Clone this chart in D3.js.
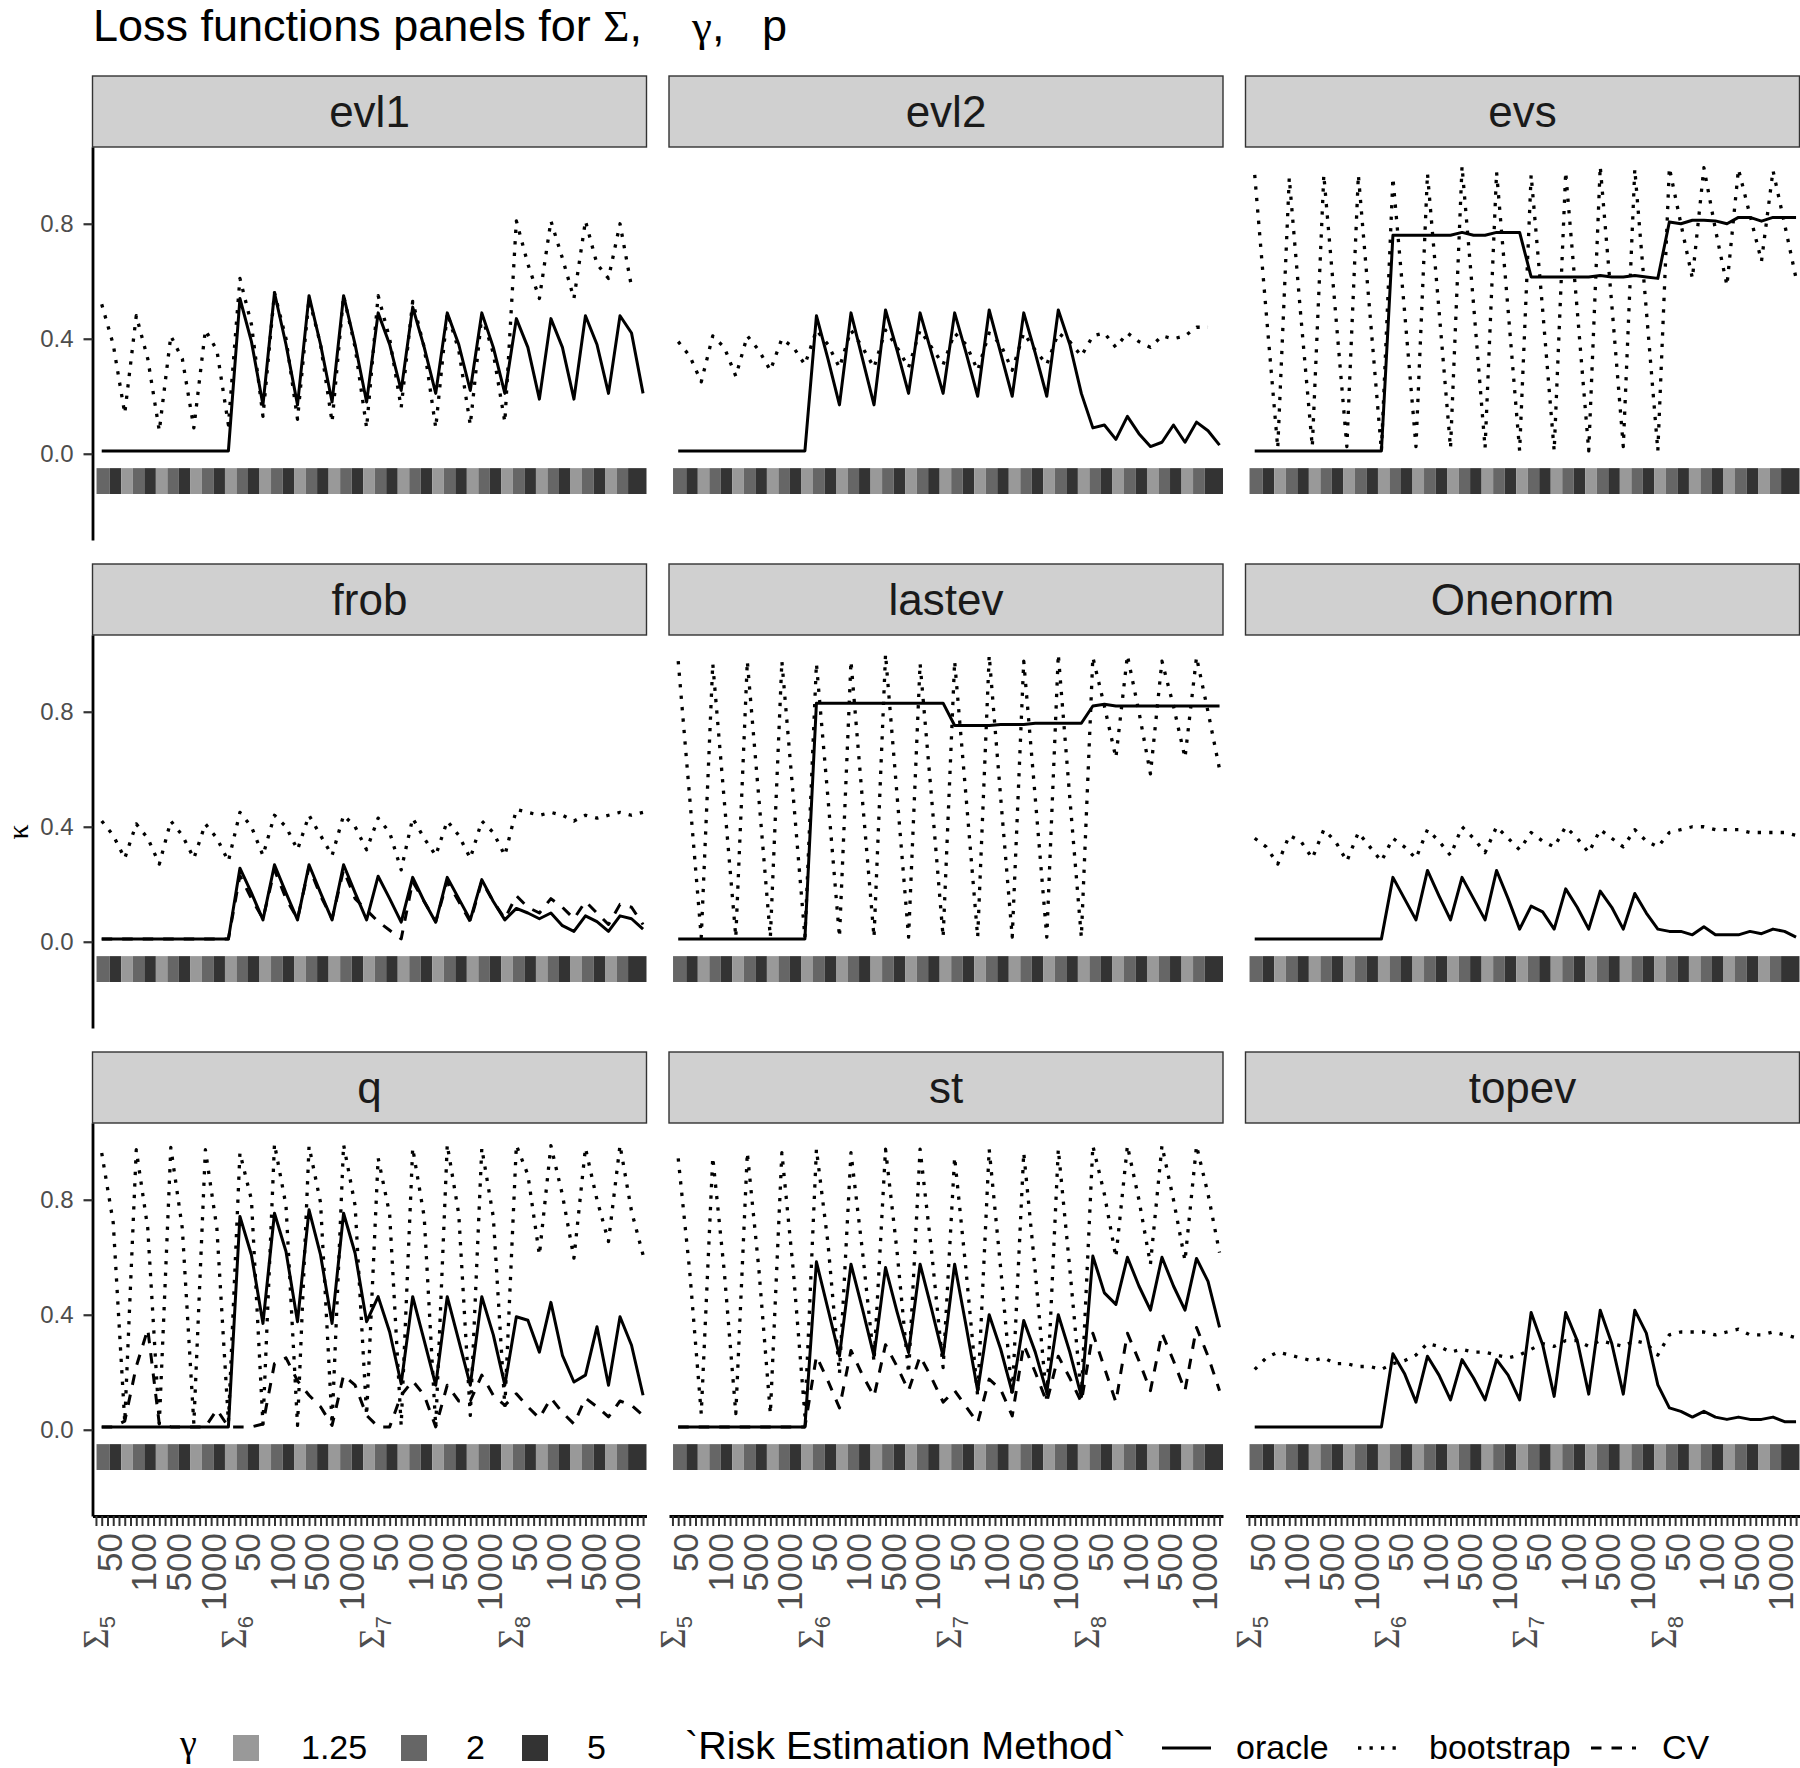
<!DOCTYPE html>
<html><head><meta charset="utf-8">
<script src="https://cdn.jsdelivr.net/npm/d3@7"></script>
<style>
body{margin:0;background:#fff}
svg{display:block}
text{font-family:"Liberation Sans",Arial,Helvetica,sans-serif;white-space:pre}
.greek{font-family:"Liberation Serif","DejaVu Serif",serif}
</style>
</head><body>
<svg id="chart" width="1800" height="1768"></svg>
<script>
// ---------------- data ----------------
const lossNames   = ["evl1","evl2","evs","frob","lastev","Onenorm","q","st","topev"];
const sigmaLevels = ["5","6","7","8"];
const pLevels     = ["50","100","500","1000"];
const gammaLevels = ["1.25","2","5"];
const methodLevels = ["oracle","bootstrap","CV"];
const yTickValues = [0, 0.4, 0.8];

const oracle_evl1 = [0.01,0.01,0.01,0.01,0.01,0.01,0.01,0.01,0.01,0.01,0.01,0.01,
 0.54,0.39,0.17,0.56,0.38,0.17,0.55,0.38,0.18,0.55,0.38,0.18,
 0.49,0.38,0.22,0.51,0.37,0.21,0.49,0.38,0.22,0.49,0.37,0.21,
 0.47,0.37,0.19,0.47,0.37,0.19,0.48,0.38,0.21,0.48,0.42,0.21];
const boot_evl1 = [0.52,0.38,0.14,0.48,0.33,0.08,0.41,0.33,0.09,0.43,0.36,0.10,
 0.61,0.45,0.13,0.56,0.40,0.12,0.54,0.38,0.11,0.55,0.37,0.09,
 0.55,0.40,0.16,0.53,0.37,0.09,0.49,0.36,0.10,0.48,0.35,0.11,
 0.81,0.66,0.54,0.81,0.68,0.54,0.81,0.66,0.61,0.80,0.58,null];

const oracle_evl2 = [0.01,0.01,0.01,0.01,0.01,0.01,0.01,0.01,0.01,0.01,0.01,0.01,
 0.48,0.33,0.17,0.49,0.33,0.17,0.50,0.36,0.21,0.49,0.35,0.21,
 0.49,0.35,0.20,0.50,0.35,0.20,0.49,0.35,0.20,0.50,0.38,0.21,
 0.09,0.10,0.05,0.13,0.07,0.025,0.04,0.10,0.04,0.11,0.08,0.03];
const boot_evl2 = [0.39,0.34,0.25,0.41,0.37,0.27,0.41,0.36,0.29,0.40,0.37,0.31,
 0.43,0.38,0.30,0.43,0.37,0.30,0.43,0.37,0.30,0.43,0.37,0.31,
 0.42,0.38,0.29,0.42,0.38,0.29,0.42,0.36,0.31,0.42,0.39,0.34,
 0.41,0.42,0.37,0.42,0.39,0.37,0.41,0.40,0.41,0.44,0.44,null];

const oracle_evs = [0.01,0.01,0.01,0.01,0.01,0.01,0.01,0.01,0.01,0.01,0.01,0.01,
 0.76,0.76,0.76,0.76,0.76,0.76,0.77,0.76,0.76,0.77,0.77,0.77,
 0.615,0.615,0.615,0.615,0.615,0.615,0.62,0.615,0.615,0.62,0.615,0.61,
 0.806,0.80,0.812,0.812,0.81,0.80,0.822,0.822,0.809,0.822,0.822,0.822];
const boot_evs = [0.97,0.49,0.02,0.96,0.48,0.025,0.97,0.50,0.025,0.97,0.49,0.01,
 0.96,0.50,0.025,0.975,0.50,0.02,1.0,0.52,0.02,0.98,0.50,0.01,
 0.97,0.50,0.01,0.98,0.50,0.01,1.0,0.52,0.025,0.99,0.50,0.01,
 0.995,0.80,0.61,0.995,0.78,0.585,0.99,0.83,0.67,0.985,0.80,0.61];

const oracle_frob = [0.01,0.01,0.01,0.01,0.01,0.01,0.01,0.01,0.01,0.01,0.01,0.01,
 0.256,0.17,0.076,0.268,0.17,0.076,0.268,0.17,0.076,0.268,0.17,0.076,
 0.228,0.15,0.068,0.224,0.14,0.068,0.224,0.15,0.076,0.216,0.14,0.076,
 0.116,0.10,0.08,0.10,0.056,0.036,0.09,0.07,0.036,0.09,0.08,0.044];
const boot_frob = [0.42,0.37,0.29,0.41,0.36,0.27,0.42,0.37,0.29,0.41,0.36,0.28,
 0.45,0.40,0.30,0.44,0.40,0.32,0.44,0.37,0.30,0.44,0.40,0.32,
 0.43,0.38,0.25,0.43,0.36,0.30,0.42,0.37,0.29,0.42,0.38,0.30,
 0.46,0.45,0.44,0.45,0.44,0.42,0.44,0.43,0.44,0.45,0.44,0.45];
const cv_frob = [0.01,0.01,0.01,0.01,0.01,0.01,0.01,0.01,0.01,0.01,0.01,0.01,
 0.23,0.15,0.08,0.25,0.15,0.08,0.26,0.16,0.08,0.25,0.15,0.11,
 0.07,0.04,0.01,0.21,0.14,0.07,0.21,0.14,0.07,0.21,0.14,0.08,
 0.16,0.12,0.10,0.15,0.12,0.08,0.14,0.10,0.06,0.13,0.12,0.06];

const oracle_lastev = [0.01,0.01,0.01,0.01,0.01,0.01,0.01,0.01,0.01,0.01,0.01,0.01,
 0.83,0.83,0.83,0.83,0.83,0.83,0.83,0.83,0.83,0.83,0.83,0.83,
 0.752,0.752,0.752,0.752,0.756,0.756,0.756,0.76,0.76,0.76,0.76,0.76,
 0.82,0.826,0.82,0.82,0.82,0.82,0.82,0.82,0.82,0.82,0.82,0.82];
const boot_lastev = [0.976,0.50,0.016,0.968,0.49,0.016,0.976,0.50,0.016,0.976,0.50,0.016,
 0.968,0.50,0.016,0.976,0.49,0.016,1.0,0.51,0.016,0.968,0.50,0.016,
 0.976,0.50,0.016,0.996,0.50,0.016,0.976,0.50,0.016,1.0,0.50,0.016,
 0.99,0.82,0.64,0.996,0.80,0.584,0.976,0.82,0.64,0.99,0.80,0.60];

const oracle_Onenorm = [0.01,0.01,0.01,0.01,0.01,0.01,0.01,0.01,0.01,0.01,0.01,0.01,
 0.224,0.15,0.076,0.248,0.16,0.076,0.224,0.15,0.076,0.248,0.15,0.044,
 0.124,0.104,0.044,0.184,0.12,0.044,0.176,0.12,0.044,0.168,0.10,0.044,
 0.036,0.036,0.024,0.052,0.024,0.024,0.024,0.036,0.028,0.044,0.036,0.016];
const boot_Onenorm = [0.36,0.33,0.27,0.37,0.35,0.29,0.39,0.35,0.28,0.38,0.33,0.28,
 0.36,0.33,0.29,0.39,0.35,0.30,0.40,0.36,0.31,0.40,0.36,0.32,
 0.38,0.35,0.33,0.40,0.36,0.31,0.39,0.36,0.33,0.39,0.35,0.33,
 0.38,0.39,0.40,0.40,0.39,0.39,0.39,0.38,0.38,0.38,0.38,0.37];

const oracle_q = [0.01,0.01,0.01,0.01,0.01,0.01,0.01,0.01,0.01,0.01,0.01,0.01,
 0.742,0.608,0.37,0.753,0.62,0.376,0.765,0.608,0.37,0.753,0.614,0.376,
 0.463,0.34,0.16,0.463,0.31,0.155,0.463,0.31,0.155,0.463,0.33,0.155,
 0.393,0.381,0.27,0.443,0.259,0.166,0.19,0.358,0.155,0.393,0.294,0.12];
const boot_q = [0.963,0.72,0.027,0.974,0.70,0.021,0.982,0.70,0.021,0.974,0.70,0.027,
 0.963,0.80,0.02,0.994,0.78,0.015,0.986,0.79,0.02,0.992,0.78,0.05,
 0.945,0.75,0.015,0.98,0.74,0.01,0.992,0.75,0.05,0.98,0.74,0.08,
 0.99,0.887,0.608,0.988,0.817,0.597,0.98,0.80,0.655,0.99,0.76,0.608];
const cv_q = [0.01,0.01,0.03,0.22,0.35,0.02,0.01,0.01,0.01,0.01,0.07,0.01,
 0.01,0.01,0.02,0.23,0.25,0.17,0.12,0.08,0.015,0.19,0.155,0.05,
 0.01,0.01,0.12,0.17,0.12,0.01,0.155,0.10,0.10,0.19,0.12,0.085,
 0.125,0.08,0.04,0.11,0.06,0.02,0.11,0.08,0.045,0.10,0.085,0.05];

const oracle_st = [0.01,0.01,0.01,0.01,0.01,0.01,0.01,0.01,0.01,0.01,0.01,0.01,
 0.584,0.42,0.256,0.576,0.42,0.256,0.564,0.41,0.268,0.576,0.42,0.256,
 0.576,0.36,0.136,0.40,0.28,0.13,0.38,0.27,0.13,0.40,0.27,0.116,
 0.604,0.476,0.436,0.60,0.50,0.416,0.60,0.50,0.416,0.596,0.516,0.356];
const boot_st = [0.944,0.55,0.056,0.948,0.55,0.056,0.964,0.56,0.056,0.964,0.55,0.05,
 0.976,0.65,0.196,0.964,0.62,0.236,0.976,0.62,0.196,0.976,0.62,0.216,
 0.948,0.55,0.116,0.976,0.56,0.116,0.964,0.55,0.10,0.976,0.56,0.116,
 0.988,0.82,0.60,0.988,0.80,0.576,0.988,0.80,0.588,0.988,0.82,0.616];
const cv_st = [0.01,0.01,0.01,0.01,0.01,0.01,0.01,0.01,0.01,0.01,0.01,0.01,
 0.256,0.17,0.076,0.276,0.19,0.116,0.296,0.22,0.136,0.256,0.18,0.096,
 0.136,0.08,0.024,0.176,0.14,0.048,0.296,0.20,0.096,0.256,0.18,0.096,
 0.336,0.216,0.096,0.336,0.24,0.136,0.336,0.24,0.136,0.356,0.256,0.136];

const oracle_topev = [0.01,0.01,0.01,0.01,0.01,0.01,0.01,0.01,0.01,0.01,0.01,0.01,
 0.264,0.196,0.096,0.256,0.19,0.104,0.244,0.18,0.104,0.244,0.19,0.104,
 0.408,0.296,0.116,0.408,0.31,0.124,0.416,0.30,0.124,0.416,0.336,0.156,
 0.076,0.064,0.044,0.064,0.044,0.036,0.044,0.036,0.036,0.044,0.028,0.028];
const boot_topev = [0.21,0.25,0.27,0.26,0.25,0.24,0.25,0.23,0.23,0.22,0.22,0.21,
 0.23,0.24,0.26,0.30,0.29,0.27,0.28,0.27,0.27,0.26,0.25,0.26,
 0.28,0.30,0.29,0.31,0.31,0.29,0.31,0.30,0.29,0.31,0.30,0.26,
 0.33,0.34,0.34,0.34,0.33,0.34,0.35,0.33,0.33,0.34,0.33,0.32];

// table built from the arrays above
const seriesByLoss = {
  evl1:   {oracle: oracle_evl1,   bootstrap: boot_evl1,   CV: null},
  evl2:   {oracle: oracle_evl2,   bootstrap: boot_evl2,   CV: null},
  evs:    {oracle: oracle_evs,    bootstrap: boot_evs,    CV: null},
  frob:   {oracle: oracle_frob,   bootstrap: boot_frob,   CV: cv_frob},
  lastev: {oracle: oracle_lastev, bootstrap: boot_lastev, CV: null},
  Onenorm:{oracle: oracle_Onenorm,bootstrap: boot_Onenorm,CV: null},
  q:      {oracle: oracle_q,      bootstrap: boot_q,      CV: cv_q},
  st:     {oracle: oracle_st,     bootstrap: boot_st,     CV: cv_st},
  topev:  {oracle: oracle_topev,  bootstrap: boot_topev,  CV: null}
};

// x categories: Sigma x p x gamma (48 combos)
const combos = [];
sigmaLevels.forEach((s,si)=>pLevels.forEach((p,pi)=>gammaLevels.forEach((g,gi)=>combos.push({s,si,p,pi,g,gi}))));

// ---------------- layout / style ----------------
const colLeft = [92.5, 669, 1245.5];
const rowTop  = [76, 564, 1052];
const panelW = 554, stripH = 71, panelH = 393;
const gammaFill = {"1.25":"#999999","2":"#666666","5":"#333333"};
const lineStyle = {
  oracle:   {dash:null, w:3},
  bootstrap:{dash:"3.3,8.2", w:3.3},
  CV:       {dash:"10.5,10", w:3}
};

const svg = d3.select("#chart");
svg.append("rect").attr("width",1800).attr("height",1768).attr("fill","#fff");

// x: 96 discrete slots, points on the even slots
const x = d3.scaleLinear().domain([0.4, 96.6]).range([0, panelW]);
const slotOf = i => 2*(i+1);
const y = d3.scaleLinear().domain([-0.30, 1.067]).range([panelH, 0]);

const line = d3.line().defined(d=>d!=null).x((d,i)=>x(slotOf(i))).y(d=>y(d)).curve(d3.curveLinear);

// title
const title = svg.append("text").attr("x",93).attr("y",41).attr("font-size",45).attr("fill","#000");
title.append("tspan").text("Loss functions panels for ");
title.append("tspan").attr("class","greek").text("Σ");
title.append("tspan").text(",    ");
title.append("tspan").attr("class","greek").text("γ");
title.append("tspan").text(",   p");

// y axis title
svg.append("text").attr("class","greek").attr("transform","translate(28,832) rotate(-90)")
  .attr("text-anchor","middle").attr("font-size",30).attr("fill","#000").text("κ");

lossNames.forEach((name, k)=>{
  const col = k % 3, row = Math.floor(k/3);
  const gx = colLeft[col], gy = rowTop[row];
  const G = svg.append("g").attr("transform",`translate(${gx},${gy})`);
  // strip
  G.append("rect").attr("x",0).attr("y",0).attr("width",panelW).attr("height",stripH)
    .attr("fill","#d0d0d0").attr("stroke","#333").attr("stroke-width",1.4);
  G.append("text").attr("x",panelW/2).attr("y",stripH/2).attr("dy","0.36em")
    .attr("text-anchor","middle").attr("font-size",44).attr("fill","#1a1a1a").text(name);

  const P = G.append("g").attr("transform",`translate(0,${stripH})`);
  // gamma strip (segments coloured by the following point's gamma)
  const tiles = d3.range(combos.length-1).map(j=>({
    x0: j===0 ? 1.1 : slotOf(j)-0.6,
    x1: j===combos.length-2 ? 96.6 : slotOf(j)+1.4,
    g: combos[j+1].g
  }));
  P.selectAll("rect.tile").data(tiles).join("rect").attr("class","tile")
    .attr("x",d=>x(d.x0)).attr("width",d=>x(d.x1)-x(d.x0))
    .attr("y",y(-0.05)).attr("height",y(-0.14)-y(-0.05))
    .attr("fill",d=>gammaFill[d.g]);

  // lines
  const ser = seriesByLoss[name];
  methodLevels.forEach(m=>{
    const vals = ser[m];
    if(!vals) return;
    P.append("path").attr("d",line(vals)).attr("fill","none").attr("stroke","#000")
      .attr("stroke-width",lineStyle[m].w).attr("stroke-linejoin","round").attr("stroke-linecap","butt")
      .attr("stroke-dasharray",lineStyle[m].dash);
  });

  // y axis (first column)
  if(col===0){
    const ax = P.append("g").call(d3.axisLeft(y).tickValues(yTickValues).tickFormat(d3.format(".1f"))
      .tickSize(9).tickSizeOuter(0).tickPadding(10));
    ax.select(".domain").attr("stroke","#000").attr("stroke-width",2.8);
    ax.selectAll(".tick line").attr("stroke","#333").attr("stroke-width",2.2);
    ax.selectAll(".tick text").attr("font-size",24).attr("fill","#4d4d4d")
      .attr("font-family","Liberation Sans, Arial, sans-serif");
  }
  // x axis (bottom row)
  if(row===2){
    const ax = P.append("g").attr("transform",`translate(0,${panelH})`)
      .call(d3.axisBottom(x).tickValues(d3.range(1,97)).tickFormat("").tickSize(10).tickSizeOuter(0));
    ax.select(".domain").attr("stroke","#000").attr("stroke-width",2.8);
    ax.selectAll(".tick line").attr("stroke","#333").attr("stroke-width",2);
    // p labels
    const pLab = [];
    sigmaLevels.forEach((s,si)=>pLevels.forEach((p,pi)=>pLab.push({p, slot: 3.5 + 24*si + 6*pi})));
    P.selectAll("text.plab").data(pLab).join("text").attr("class","plab")
      .attr("transform",d=>`translate(${x(d.slot)},${panelH+17}) rotate(-90)`)
      .attr("text-anchor","end").attr("dy","0.33em").attr("font-size",35).attr("fill","#4d4d4d")
      .text(d=>d.p);
    // Sigma labels
    sigmaLevels.forEach((s,si)=>{
      const t = P.append("text")
        .attr("transform",`translate(${x(3.1+24*si)},${panelH+100}) rotate(-90)`)
        .attr("text-anchor","end").attr("fill","#4d4d4d");
      t.append("tspan").attr("class","greek").attr("font-size",35).text("Σ");
      t.append("tspan").attr("font-size",22).attr("dy",7).text(s);
    });
  }
});

// ---------------- legend ----------------
const L = svg.append("g");
const legY = 1748;
L.append("text").attr("class","greek").attr("x",180).attr("y",1756).attr("font-size",38).text("γ");
const gx0 = [233, 401, 522], gtx = [301, 466, 587];
gammaLevels.forEach((g,i)=>{
  L.append("rect").attr("x",gx0[i]).attr("y",legY-13).attr("width",26).attr("height",26).attr("fill",gammaFill[g]);
  L.append("text").attr("x",gtx[i]).attr("y",1759).attr("font-size",34).text(g);
});
L.append("text").attr("x",685).attr("y",1759).attr("font-size",39.5).text("`Risk Estimation Method`");
const lk = [[1162,1211],[1358,1403],[1591,1636]], ltx = [1236,1429,1662];
methodLevels.forEach((m,i)=>{
  L.append("line").attr("x1",lk[i][0]).attr("x2",lk[i][1]).attr("y1",legY).attr("y2",legY)
    .attr("stroke","#000").attr("stroke-width",lineStyle[m].w).attr("stroke-dasharray",lineStyle[m].dash);
  L.append("text").attr("x",ltx[i]).attr("y",1759).attr("font-size",34).text(m);
});
</script>
</body></html>
